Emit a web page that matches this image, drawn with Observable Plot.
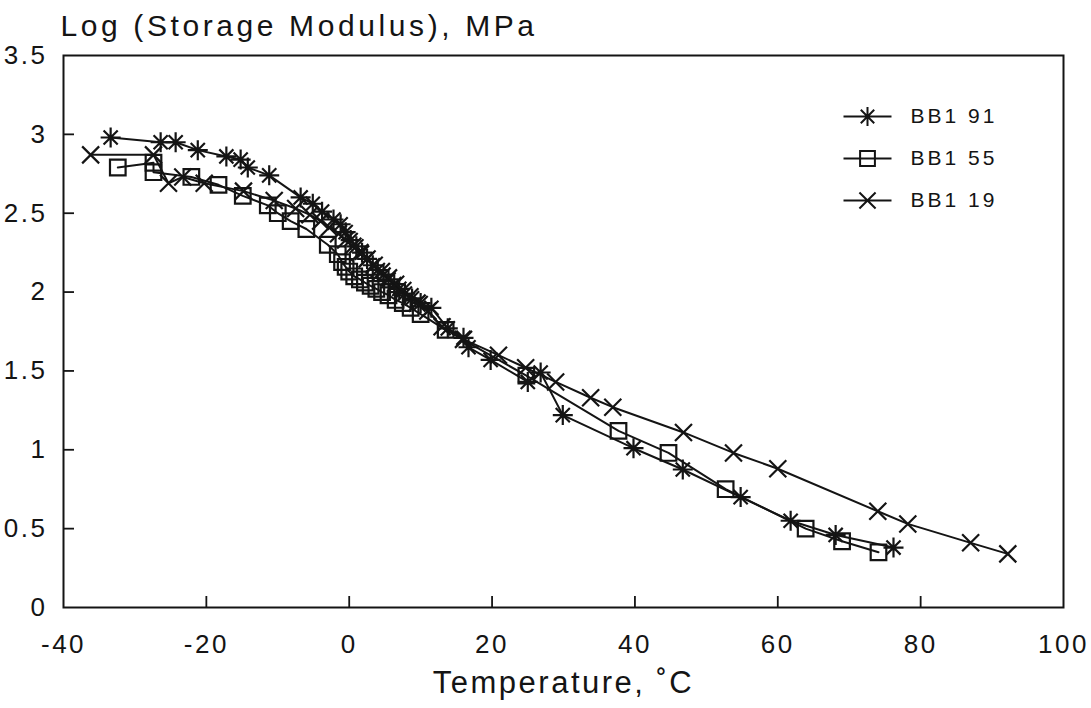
<!DOCTYPE html>
<html>
<head>
<meta charset="utf-8">
<script src="https://cdn.jsdelivr.net/npm/d3@7"></script>
<script src="https://cdn.jsdelivr.net/npm/@observablehq/plot@0.6"></script>
<style>
  html, body { margin: 0; padding: 0; background: #fff; }
  #chart svg { display: block; }
</style>
</head>
<body>
<div id="chart"></div>
<script>
// Storage modulus (log MPa) versus temperature for three blends
const seriesNames = ["BB1 91", "BB1 55", "BB1 19"];

const temp91 = [-33.4, -26.4, -24.3, -21.2, -17.2, -15.2, -14.2, -11.2, -6.8, -5.1, -3.8, -2.2, -1.2, -0.5, 0.2, 1.0, 1.8, 2.5, 3.3, 4.0, 4.8, 5.5, 6.3, 7.0, 7.8, 8.8, 10.0, 11.5, 13.8, 16.0, 16.7, 19.8, 25.0, 26.8, 29.9, 39.8, 46.7, 54.8, 61.8, 68.1, 76.2];
const mod91  = [2.98, 2.95, 2.95, 2.90, 2.86, 2.84, 2.79, 2.74, 2.60, 2.56, 2.51, 2.46, 2.43, 2.38, 2.33, 2.29, 2.25, 2.21, 2.17, 2.14, 2.11, 2.08, 2.05, 2.02, 1.99, 1.96, 1.93, 1.90, 1.77, 1.71, 1.65, 1.57, 1.43, 1.49, 1.22, 1.01, 0.875, 0.70, 0.55, 0.46, 0.38];

const temp55 = [-32.4, -27.4, -27.4, -22.1, -18.3, -14.9, -11.4, -10.0, -8.2, -6.0, -3.0, -1.6, -1.0, -0.5, 0.0, 0.7, 1.5, 2.2, 3.0, 3.8, 4.6, 5.5, 6.5, 7.5, 8.6, 10.0, 13.5, 24.8, 37.7, 44.7, 52.7, 63.9, 69.0, 74.1];
const mod55  = [2.79, 2.82, 2.76, 2.73, 2.68, 2.61, 2.55, 2.50, 2.45, 2.40, 2.30, 2.24, 2.19, 2.16, 2.13, 2.10, 2.08, 2.06, 2.04, 2.02, 2.00, 1.98, 1.95, 1.93, 1.90, 1.86, 1.76, 1.47, 1.12, 0.98, 0.75, 0.50, 0.42, 0.35];

const temp19 = [-36.2, -27.4, -25.3, -23.3, -20.3, -14.8, -10.5, -7.5, -5.5, -4.0, -2.8, -1.5, -0.5, 0.5, 1.5, 2.5, 3.5, 4.5, 5.5, 6.5, 7.5, 8.5, 9.5, 11.0, 13.0, 16.0, 20.9, 24.7, 28.9, 33.8, 36.9, 46.8, 53.8, 60.0, 74.0, 78.2, 87.0, 92.2];
const mod19  = [2.87, 2.87, 2.69, 2.73, 2.69, 2.64, 2.58, 2.53, 2.49, 2.45, 2.41, 2.37, 2.33, 2.29, 2.25, 2.21, 2.17, 2.13, 2.09, 2.05, 2.01, 1.97, 1.93, 1.88, 1.78, 1.70, 1.60, 1.52, 1.43, 1.33, 1.27, 1.11, 0.98, 0.88, 0.61, 0.53, 0.41, 0.34];

const xTicks = [-40, -20, 0, 20, 40, 60, 80, 100];
const yTicks = [0, 0.5, 1, 1.5, 2, 2.5, 3, 3.5];

const titleText = "Log (Storage Modulus), MPa";
const xLabelText = "Temperature, \u02DAC";

// Marker shapes (r = half extent in px)
const asterisk8 = {
  draw(ctx, size) {
    const r = Math.sqrt(size / Math.PI);
    for (const a of [0, Math.PI / 4, Math.PI / 2, 3 * Math.PI / 4]) {
      const c = Math.cos(a) * r, s = Math.sin(a) * r;
      ctx.moveTo(c, s); ctx.lineTo(-c, -s);
    }
  }
};
const squareOpen = {
  draw(ctx, size) {
    const r = Math.sqrt(size / Math.PI) * 0.78;
    ctx.moveTo(-r, -r); ctx.lineTo(r, -r); ctx.lineTo(r, r); ctx.lineTo(-r, r); ctx.closePath();
  }
};
const crossX = {
  draw(ctx, size) {
    const r = Math.sqrt(size / Math.PI) * 0.85;
    ctx.moveTo(-r, -r); ctx.lineTo(r, r);
    ctx.moveTo(-r, r); ctx.lineTo(r, -r);
  }
};
const symbols = [asterisk8, squareOpen, crossX];

// legend key: short line segment through the marker
const withSegment = (sym) => ({
  draw(ctx, size) {
    ctx.moveTo(-24, 0); ctx.lineTo(24, 0);
    sym.draw(ctx, size);
  }
});

const temps = [temp91, temp55, temp19];
const mods = [mod91, mod55, mod19];
const rows = seriesNames.flatMap((name, i) =>
  temps[i].map((t, j) => ({series: name, t, v: mods[i][j]}))
);

const ink = "#141414";
const W = 1091, H = 708;
const mL = 63, mR = 28, mT = 55, mB = 101;
const frameW = W - mL - mR, frameH = H - mT - mB;

const marks = [
  Plot.frame({stroke: ink, strokeWidth: 2}),
  // inward tick marks
  Plot.tickX(xTicks.slice(1, -1), {x: d => d, insetTop: frameH - 11, stroke: ink, strokeWidth: 1.8}),
  Plot.tickY(yTicks.slice(1, -1), {y: d => d, insetRight: frameW - 11, stroke: ink, strokeWidth: 1.8}),
  Plot.axisX(xTicks, {tickSize: 0, tickPadding: 27, tickFormat: d => String(d), fontSize: 26, fill: ink}),
  Plot.axisY(yTicks, {tickSize: 0, tickPadding: 16, tickFormat: d => String(d), fontSize: 26, fill: ink}),
  Plot.text([titleText], {text: d => d, frameAnchor: "top-left", dx: -3, dy: -20, textAnchor: "start", lineAnchor: "bottom", fontSize: 30, fill: ink}),
  Plot.text([xLabelText], {text: d => d, frameAnchor: "bottom", dy: 76, lineAnchor: "middle", fontSize: 31, fill: ink})
];

seriesNames.forEach((name, i) => {
  const data = rows.filter(d => d.series === name);
  marks.push(Plot.line(data, {x: "t", y: "v", stroke: ink, strokeWidth: 2}));
  marks.push(Plot.dot(data, {x: "t", y: "v", symbol: symbols[i], r: 10, stroke: ink, strokeWidth: 2.2, fill: "none"}));
  // legend entry
  const dy = 61 + i * 42;
  marks.push(Plot.dot([name], {frameAnchor: "top-right", dx: -196, dy, symbol: withSegment(symbols[i]), r: 9.5, stroke: ink, strokeWidth: 2, fill: "none"}));
  marks.push(Plot.text([name], {text: d => d, frameAnchor: "top-right", dx: -153, dy, textAnchor: "start", lineAnchor: "middle", fontSize: 21, fill: ink}));
});

const chart = Plot.plot({
  width: W,
  height: H,
  marginLeft: mL,
  marginRight: mR,
  marginTop: mT,
  marginBottom: mB,
  style: {fontFamily: "'Liberation Sans', Arial, sans-serif", background: "#fff", letterSpacing: "2.5px"},
  x: {domain: [-40, 100], label: null},
  y: {domain: [0, 3.5], label: null},
  marks
});

// tracking for the title and legend texts
chart.querySelectorAll("text").forEach(t => {
  if (t.textContent === titleText) t.setAttribute("letter-spacing", "3.6");
  if (seriesNames.includes(t.textContent)) t.setAttribute("letter-spacing", "3");
});

document.getElementById("chart").appendChild(chart);
</script>
</body>
</html>
